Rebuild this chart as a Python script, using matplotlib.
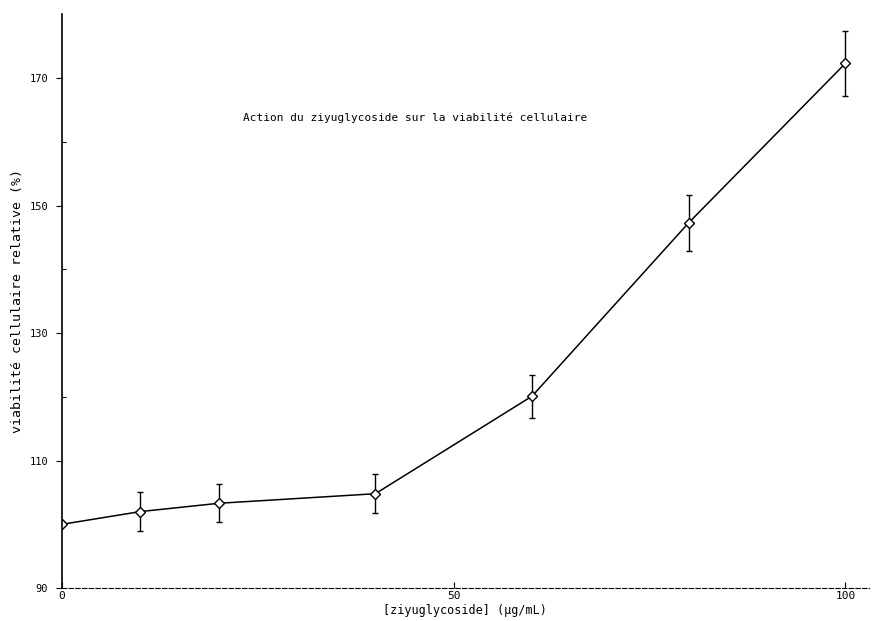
import numpy as np
from matplotlib import pyplot as plt

# concentrations (ug/mL) and relative cell viability (%)
conc = [0, 10, 20, 40, 60, 80, 100]
viab = [100.0, 102.0, 103.3, 104.8, 120.1, 147.3, 172.3]
err = [0.0, 3.1, 3.0, 3.1, 3.4, 4.4, 5.1]

yticks = [90, 110, 130, 150, 170]
xticks = [0, 50, 100]

mono = "DejaVu Sans Mono"

fig = plt.figure(figsize=(8.79, 6.21), dpi=100)
ax = fig.add_axes([0.0705, 0.053, 0.918, 0.924])

ax.errorbar(conc, viab, yerr=err, color="black", lw=1.1, elinewidth=1.0,
            capsize=2.5, capthick=1.0, marker="D", markersize=5,
            markerfacecolor="white", markeredgecolor="black", markeredgewidth=1.0)

ax.set_xlim(0, 103)
ax.set_ylim(90, 180)
ax.set_xticks(xticks)
ax.set_yticks(yticks)
ax.set_yticks(np.arange(100, 180, 20), minor=True)
ax.set_xticklabels([str(t) for t in xticks], fontfamily=mono, fontsize=8)
ax.set_yticklabels([str(t) for t in yticks], fontfamily=mono, fontsize=7.5)
ax.tick_params(axis="y", direction="out", length=4, width=0.8, pad=6)
ax.tick_params(axis="y", which="minor", direction="in", length=3, width=0.8)
ax.tick_params(axis="x", direction="in", length=4, width=0.8, pad=2)

for s in ["top", "right"]:
    ax.spines[s].set_visible(False)
ax.spines["left"].set_linewidth(1.2)
ax.spines["bottom"].set_linewidth(0.8)
ax.spines["bottom"].set_linestyle((0, (4, 2)))

ax.set_xlabel("[ziyuglycoside] (µg/mL)", fontfamily=mono, fontsize=8.5, labelpad=2)
ax.set_ylabel("viabilité cellulaire relative (%)", fontfamily=mono, fontsize=9.5, labelpad=4)

ax.text(0.4377, 0.819, "Action du ziyuglycoside sur la viabilité cellulaire",
        transform=ax.transAxes, ha="center", va="center", fontfamily=mono, fontsize=8)

plt.savefig("out.png", dpi=100)
